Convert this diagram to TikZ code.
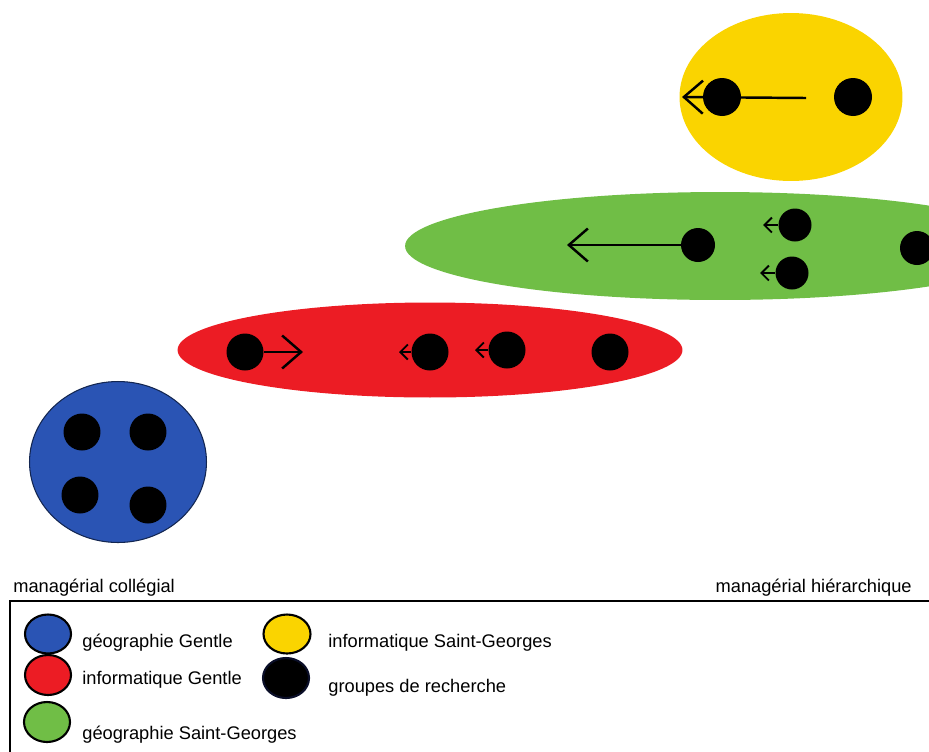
\documentclass[tikz,border=0pt]{standalone}
\usepackage{fontspec}
\setmainfont{Liberation Sans}
\usepackage{tikz}
\usetikzlibrary{calc}
\usetikzlibrary{shapes,arrows.meta}
\definecolor{jaune}{RGB}{250,212,0}
\definecolor{vert}{RGB}{112,190,70}
\definecolor{rouge}{RGB}{236,28,36}
\definecolor{bleu}{RGB}{42,84,180}
\definecolor{marine}{RGB}{10,14,40}

\begin{document}
\begin{tikzpicture}[x=0.02cm,y=-0.02cm,
    groupe/.style={ellipse,inner sep=0pt},
    dot/.style={fill=black,circle,inner sep=0pt,minimum size=0.74cm},
    bigarrow/.style={line width=1.4pt,-{Straight Barb[length=0.38cm,width=0.66cm]}},
    smallarrow/.style={line width=1.1pt,-{Straight Barb[length=0.15cm,width=0.3cm]}},
    legende/.style={ellipse,draw=black,line width=1.2pt,minimum width=0.92cm,minimum height=0.78cm,inner sep=0pt},
    texte/.style={anchor=base west,inner sep=0pt,font=\fontsize{10.4}{12}\selectfont}]
    \useasboundingbox (0,0) rectangle (929,751);
    \clip (0,0) rectangle (929,751);
    % groupes
    \node[groupe,fill=jaune,minimum width=4.46cm,minimum height=3.36cm] (Yellow) at (791,97){};
    \node[groupe,fill=vert,minimum width=12.6cm,minimum height=2.16cm] (Green) at (720,246){};
    \node[groupe,fill=rouge,minimum width=10.1cm,minimum height=1.9cm] (Red) at (430,350){};
    \node[groupe,fill=bleu,draw=bleu!45!black,line width=0.6pt,minimum width=3.54cm,minimum height=3.22cm] (Blue) at (118,462){};
    % groupes de recherche
    \node[dot,minimum size=0.76cm] (Y1) at (722,97){};
    \node[dot,minimum size=0.76cm] (Y2) at (853,97){};
    \node[dot,minimum size=0.68cm] (G1) at (698,245){};
    \node[dot,minimum size=0.66cm] (G2) at (795,225){};
    \node[dot,minimum size=0.66cm] (G3) at (792,273){};
    \node[dot,minimum size=0.68cm] (G4) at (917,248){};
    \node[dot] (R1) at (245,352){};
    \node[dot] (R2) at (430,352){};
    \node[dot] (R3) at (507,350){};
    \node[dot] (R4) at (610,352){};
    \node[dot] (B1) at (82,432){};
    \node[dot] (B2) at (148,432){};
    \node[dot] (B3) at (80,495){};
    \node[dot] (B4) at (148,505){};
    % fleches
    \coordinate (YStart) at (806,98);
    \coordinate (YEnd) at (682,97);
    \coordinate (GEnd) at (567,245);
    \coordinate (G2End) at (763,225);
    \coordinate (G3End) at (760,273);
    \coordinate (REnd) at (303,352);
    \coordinate (R2End) at (399,352);
    \coordinate (R3End) at (475,350);
    \draw [bigarrow] (YStart)--(YEnd);
    \draw [bigarrow] (G1.west)--(GEnd);
    \draw [bigarrow] (R1.east)--(REnd);
    \draw [smallarrow] (G2.west)--(G2End);
    \draw [smallarrow] (G3.west)--(G3End);
    \draw [smallarrow] (R2.west)--(R2End);
    \draw [smallarrow] (R3.west)--(R3End);
    % legende
    \node[texte] (Left) at (13,592) {managérial collégial};
    \node[texte,anchor=base east] (Right) at (912,592) {managérial hiérarchique};
    \draw [line width=1.6pt] (10,601) rectangle (960,790);
    \node[legende,fill=bleu] (LBlue) at (48,634){};
    \node[legende,fill=rouge,minimum height=0.8cm] (LRed) at (48,675){};
    \node[legende,fill=vert,minimum height=0.8cm] (LGreen) at (47,722){};
    \node[legende,fill=jaune,minimum width=0.94cm] (LYellow) at (287,634){};
    \node[legende,fill=black,draw=marine,minimum height=0.8cm] (LBlack) at (286,678){};
    \node[texte] (TBlue) at (82,647) {géographie Gentle};
    \node[texte] (TRed) at (82,684) {informatique Gentle};
    \node[texte] (TGreen) at (82,739) {géographie Saint-Georges};
    \node[texte] (TYellow) at (328,647) {informatique Saint-Georges};
    \node[texte] (TBlack) at (328,692) {groupes de recherche};
  \end{tikzpicture}
\end{document}
